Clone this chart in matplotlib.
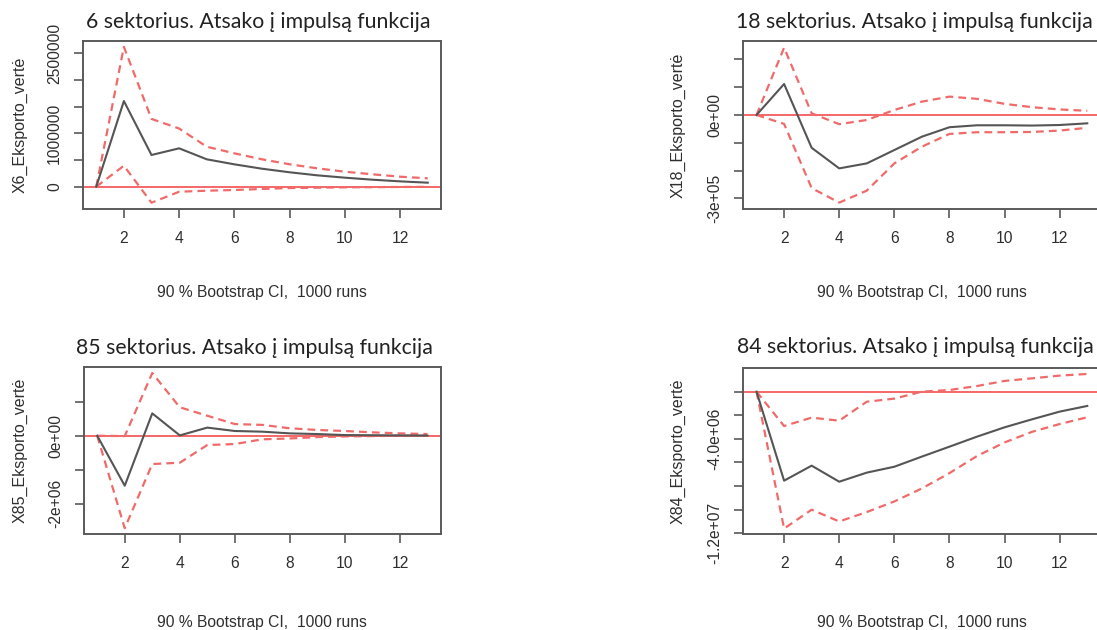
import matplotlib
matplotlib.use("Agg")
import matplotlib.pyplot as plt
import numpy as np

steps = list(range(1, 14))

titles = [
    "6 sektorius. Atsako į impulsą funkcija",
    "18 sektorius. Atsako į impulsą funkcija",
    "85 sektorius. Atsako į impulsą funkcija",
    "84 sektorius. Atsako į impulsą funkcija",
]
ylabels = ["X6_Eksporto_vertė", "X18_Eksporto_vertė", "X85_Eksporto_vertė", "X84_Eksporto_vertė"]
xlabel_text = "90 % Bootstrap CI,  1000 runs"

# Panel 1: sector 6
irf6 = [0, 1.605e6, 5.94e5, 7.19e5, 5.13e5, 4.19e5, 3.37e5, 2.70e5, 2.13e5, 1.69e5, 1.31e5, 1.00e5, 7.5e4]
up6 = [0, 2.62e6, 1.27e6, 1.09e6, 7.49e5, 6.25e5, 5.13e5, 4.20e5, 3.44e5, 2.81e5, 2.32e5, 1.87e5, 1.57e5]
lo6 = [0, 3.93e5, -3.0e5, -9.4e4, -7.5e4, -6.2e4, -4.3e4, -2.5e4, -1.9e4, -1.2e4, -9e3, -5e3, -3e3]

# Panel 2: sector 18
irf18 = [0, 1.115e5, -1.18e5, -1.92e5, -1.74e5, -1.26e5, -7.8e4, -4.4e4, -3.7e4, -3.7e4, -3.8e4, -3.6e4, -3.0e4]
up18 = [0, 2.42e5, 6e3, -3.3e4, -1.8e4, 1.8e4, 4.8e4, 6.6e4, 5.8e4, 4.0e4, 2.8e4, 2.0e4, 1.5e4]
lo18 = [0, -3.2e4, -2.63e5, -3.15e5, -2.72e5, -1.74e5, -1.14e5, -6.8e4, -6.2e4, -6.2e4, -6.1e4, -5.6e4, -4.6e4]

# Panel 3: sector 85
irf85 = [0, -1.475e6, 6.6e5, 1e4, 2.4e5, 1.4e5, 1.2e5, 7e4, 5e4, 2e4, 1.5e4, 1e4, 5e3]
up85 = [0, -1e4, 1.85e6, 8.4e5, 5.9e5, 3.45e5, 3.2e5, 2.2e5, 1.7e5, 1.4e5, 1.0e5, 7e4, 5e4]
lo85 = [0, -2.73e6, -8.35e5, -7.96e5, -2.74e5, -2.45e5, -1.06e5, -8e4, -4e4, -2e4, -1e4, 0, 0]

# Panel 4: sector 84
irf84 = [0, -7.54e6, -6.27e6, -7.63e6, -6.86e6, -6.36e6, -5.5e6, -4.66e6, -3.81e6, -3.02e6, -2.34e6, -1.69e6, -1.21e6]
up84 = [0, -2.91e6, -2.2e6, -2.46e6, -8.5e5, -5.9e5, 0, 1.4e5, 4.8e5, 9.1e5, 1.13e6, 1.36e6, 1.5e6]
lo84 = [0, -1.16e7, -1.0e7, -1.1e7, -1.02e7, -9.3e6, -8.2e6, -6.9e6, -5.45e6, -4.3e6, -3.4e6, -2.74e6, -2.17e6]

irfs = [irf6, irf18, irf85, irf84]
ups = [up6, up18, up85, up84]
los = [lo6, lo18, lo85, lo84]

# y ticks and which ones are labelled (R drops overlapping labels)
yticks = [
    [0, 5e5, 1e6, 1.5e6, 2e6, 2.5e6],
    [-3e5, -2e5, -1e5, 0, 1e5, 2e5],
    [-2e6, -1e6, 0, 1e6],
    [-1.2e7, -1e7, -8e6, -6e6, -4e6, -2e6, 0],
]
ytick_labels = [
    ["0", "", "1000000", "", "", "2500000"],
    ["-3e+05", "", "", "0e+00", "", ""],
    ["-2e+06", "", "0e+00", ""],
    ["-1.2e+07", "", "", "", "-4.0e+06", "", ""],
]
xticks = [2, 4, 6, 8, 10, 12]

W, H = 1097, 630
fig = plt.figure(figsize=(W / 100, H / 100), dpi=100)

# axes boxes in pixels: left, right, top, bottom
boxes = [
    (83, 441, 41, 209),
    (743.3, 1100.5, 41, 209),
    (84, 440.7, 367.3, 534),
    (743.3, 1100.5, 368.3, 534),
]
ylims = [(-4.18e5, 2.73e6), (-3.38e5, 2.66e5), (-2.90e6, 2.02e6), (-1.206e7, 1.98e6)]
title_pos = [(258.5, 22), (914, 22), (254, 348), (915.5, 347)]
ylabel_x = [20, 678, 20, 678]
bootstrap_y = [293, 293, 622, 622]

frame_col = "#5a5a5a"
red_dash = "#f06a6a"
red_line = "#f45a5a"
black_line = "#555555"
text_col = "#2e2e2e"

for i in range(4):
    l, r, t, b = boxes[i]
    ax = fig.add_axes([l / W, 1 - b / H, (r - l) / W, (b - t) / H])
    ax.axhline(0, color=red_line, lw=1.3, zorder=1)
    ax.plot(steps, ups[i], color=red_dash, lw=1.6, dashes=(3.5, 2.3), zorder=2)
    ax.plot(steps, los[i], color=red_dash, lw=1.6, dashes=(3.5, 2.3), zorder=2)
    ax.plot(steps, irfs[i], color=black_line, lw=1.5, zorder=3)
    ax.set_xlim(0.52, 13.48)
    ax.set_ylim(*ylims[i])
    ax.set_xticks(xticks)
    ax.set_xticklabels([str(v) for v in xticks])
    ax.set_yticks(yticks[i])
    ax.set_yticklabels(ytick_labels[i], rotation=90, va="center")
    for s in ax.spines.values():
        s.set_color(frame_col)
        s.set_linewidth(1.4)
    ax.tick_params(axis="both", length=6.5, width=1.2, color=frame_col,
                   labelsize=11.25, labelcolor=text_col)
    ax.tick_params(axis="x", pad=9.5)
    ax.tick_params(axis="y", pad=8.5)
    for lab in ax.get_xticklabels() + ax.get_yticklabels():
        lab.set_fontfamily("Liberation Sans")

    fig.text(((l + r) / 2) / W, 1 - bootstrap_y[i] / H, xlabel_text,
             ha="center", va="center", fontsize=11.25, color=text_col,
             family="Liberation Sans")
    fig.text(ylabel_x[i] / W, 1 - ((t + b) / 2) / H, ylabels[i], rotation=90,
             ha="center", va="center", fontsize=11.5, color=text_col,
             family="Liberation Sans")
    tx, ty = title_pos[i]
    fig.text(tx / W, 1 - ty / H, titles[i], ha="center", va="center",
             fontsize=15.3, color="#222222", family="Lato", zorder=10)

fig.savefig("out.png", dpi=100)
